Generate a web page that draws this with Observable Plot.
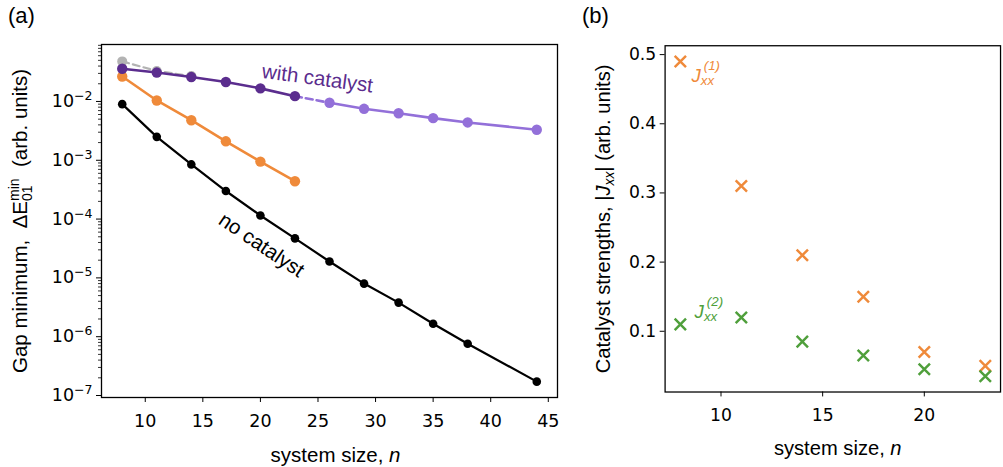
<!DOCTYPE html>
<html>
<head>
<meta charset="utf-8">
<script src="https://cdn.jsdelivr.net/npm/d3@7"></script>
<script src="https://cdn.jsdelivr.net/npm/@observablehq/plot@0.6"></script>
<style>
  body { margin: 0; background: #fff; }
  #fig { position: relative; width: 1003px; height: 467px; overflow: hidden; background: #fff; }
  .panel { position: absolute; top: 0; }
  .tag { position: absolute; font-family: "Liberation Sans", Arial, sans-serif; font-size: 22px; color: #000; line-height: 1; }
</style>
</head>
<body>
<div id="fig">
  <div id="pa" class="panel" style="left:0px"></div>
  <div id="pb" class="panel" style="left:580px"></div>
  <div class="tag" style="left:8px;top:5px">(a)</div>
  <div class="tag" style="left:582px;top:5px">(b)</div>
</div>
<script>
// ---- panel (a): minimum gap vs system size ----
const sizesNoCat = [8, 11, 14, 17, 20, 23, 26, 29, 32, 35, 38, 44];
const gapNoCat = [9.0e-3, 2.5e-3, 8.5e-4, 3.0e-4, 1.15e-4, 4.7e-5, 1.9e-5, 8.0e-6, 3.8e-6, 1.66e-6, 7.6e-7, 1.72e-7];
const sizesSmall = [8, 11, 14, 17, 20, 23];
const gapOrange = [0.0266, 0.0104, 0.0048, 0.0021, 9.5e-4, 4.4e-4];
const gapCatalyst = [0.036, 0.031, 0.026, 0.0214, 0.0167, 0.0123];
const sizesGray = [8, 11, 14];
const gapGray = [0.048, 0.033, 0.027];
const sizesLarge = [26, 29, 32, 35, 38, 44];
const gapCatalystLarge = [0.0095, 0.0075, 0.0063, 0.0052, 0.0044, 0.0033];

const gapTicks = [1e-7, 1e-6, 1e-5, 1e-4, 1e-3, 1e-2];
const gapTickExponents = ["−7", "−6", "−5", "−4", "−3", "−2"];
const sizeTicksA = [10, 15, 20, 25, 30, 35, 40, 45];

const curveLabels = [
  {n: 24.96, v: 0.0245, text: "with catalyst", color: "#5b2d8e", rotate: 7.6},
  {n: 20.1, v: 3.6e-5, text: "no catalyst", color: "#000000", rotate: 34}
];

// ---- panel (b): catalyst strengths ----
const sizesJ = [8, 11, 14, 17, 20, 23];
const j1 = [0.49, 0.31, 0.21, 0.15, 0.07, 0.05];
const j2 = [0.11, 0.12, 0.085, 0.065, 0.045, 0.035];
const strengthTicks = [0.1, 0.2, 0.3, 0.4, 0.5];
const strengthTickLabels = ["0.1", "0.2", "0.3", "0.4", "0.5"];
const sizeTicksB = [10, 15, 20];
const jLabels = [
  {n: 8.55, v: 0.469, sup: "(1)", color: "#ef8a3a"},
  {n: 8.7, v: 0.128, sup: "(2)", color: "#4f9f3b"}
];

const BLACK = "#000000", ORANGE = "#ef8a3a", PURPLE = "#5b2d8e",
      LILAC = "#9370d9", GRAY = "#b3b3b3", GREEN = "#4f9f3b";
const LABEL_FONT = "'Liberation Sans', Arial, sans-serif";
const TICK_STYLE = {fontFamily: "'DejaVu Sans', sans-serif", fontSize: "17.5px", color: "#000", background: "transparent", overflow: "visible"};

const zip = (xs, ys) => xs.map((n, i) => ({n, v: ys[i]}));
const noCat = zip(sizesNoCat, gapNoCat);
const orange = zip(sizesSmall, gapOrange);
const catalyst = zip(sizesSmall, gapCatalyst);
const gray = zip(sizesGray, gapGray);
const catalystLarge = zip(sizesLarge, gapCatalystLarge);
const bridge = [catalyst[catalyst.length - 1], catalystLarge[0]];

// minor ticks for each decade of the log axis
const yDomainA = [9.25e-8, 0.093];
const minorTicks = [];
for (let e = -8; e <= -1; e++)
  for (let k = 2; k <= 9; k++) {
    const t = k * Math.pow(10, e);
    if (t >= yDomainA[0] && t <= yDomainA[1]) minorTicks.push(t);
  }
const gapFmt = new Map(gapTicks.map((t, i) => [t, "10^" + gapTickExponents[i]]));
const strengthFmt = new Map(strengthTicks.map((t, i) => [t, strengthTickLabels[i]]));

const plotA = Plot.plot({
  width: 580, height: 467,
  marginLeft: 101, marginRight: 23, marginTop: 44, marginBottom: 70,
  x: {domain: [6.2, 45.8]},
  y: {type: "log", domain: yDomainA},
  style: TICK_STYLE,
  marks: [
    Plot.axisY(minorTicks, {tickSize: 3, text: null, label: null, strokeWidth: 0.8}),
    Plot.axisY(gapTicks, {tickSize: 5, tickPadding: 4, tickFormat: d => gapFmt.get(d),
      label: "Gap minimum, ΔE01min (arb. units)", labelAnchor: "center", labelArrow: "none", labelOffset: 89}),
    Plot.axisX(sizeTicksA, {tickSize: 5, tickPadding: 12, tickFormat: d => String(d),
      label: "system size, n", labelAnchor: "center", labelArrow: "none", labelOffset: 64}),
    Plot.line(gray, {x: "n", y: "v", stroke: GRAY, strokeWidth: 2.2, strokeDasharray: "7,4"}),
    Plot.dot(gray, {x: "n", y: "v", r: 5, fill: GRAY}),
    Plot.line(noCat, {x: "n", y: "v", stroke: BLACK, strokeWidth: 2.2}),
    Plot.dot(noCat, {x: "n", y: "v", r: 4.3, fill: BLACK}),
    Plot.line(orange, {x: "n", y: "v", stroke: ORANGE, strokeWidth: 2.6}),
    Plot.dot(orange, {x: "n", y: "v", r: 5.2, fill: ORANGE}),
    Plot.line(bridge, {x: "n", y: "v", stroke: LILAC, strokeWidth: 2.6, strokeDasharray: "7,4"}),
    Plot.line(catalystLarge, {x: "n", y: "v", stroke: LILAC, strokeWidth: 2.6}),
    Plot.dot(catalystLarge, {x: "n", y: "v", r: 5.2, fill: LILAC}),
    Plot.line(catalyst, {x: "n", y: "v", stroke: PURPLE, strokeWidth: 2.6}),
    Plot.dot(catalyst, {x: "n", y: "v", r: 5.2, fill: PURPLE}),
    Plot.text(curveLabels, {x: "n", y: "v", text: "text", fill: "color", rotate: "rotate",
      fontFamily: LABEL_FONT, fontSize: 20.5}),
    Plot.frame({stroke: "#000", strokeWidth: 1.3})
  ]
});

const plotB = Plot.plot({
  width: 430, height: 467,
  marginLeft: 86, marginRight: 3, marginTop: 46, marginBottom: 69,
  x: {domain: [7.25, 23.75]},
  y: {domain: [0.0122, 0.5128]},
  style: TICK_STYLE,
  marks: [
    Plot.axisY(strengthTicks, {tickSize: 5, tickPadding: 4, tickFormat: d => strengthFmt.get(d),
      label: "Catalyst strengths, |Jxx| (arb. units)", labelAnchor: "center", labelArrow: "none", labelOffset: 71}),
    Plot.axisX(sizeTicksB, {tickSize: 5, tickPadding: 12, tickFormat: d => String(d),
      label: "system size, n", labelAnchor: "center", labelArrow: "none", labelOffset: 64}),
    Plot.dot(zip(sizesJ, j1), {x: "n", y: "v", symbol: "times", r: 5.3, stroke: ORANGE, strokeWidth: 2.5}),
    Plot.dot(zip(sizesJ, j2), {x: "n", y: "v", symbol: "times", r: 5.3, stroke: GREEN, strokeWidth: 2.5}),
    Plot.text(jLabels, {x: "n", y: "v", text: () => "J", fill: "color", textAnchor: "start",
      fontFamily: LABEL_FONT, fontStyle: "italic", fontSize: 19}),
    Plot.text(jLabels, {x: "n", y: "v", text: () => "xx", fill: "color", textAnchor: "start", dx: 9.5, dy: 5,
      fontFamily: LABEL_FONT, fontStyle: "italic", fontSize: 13.5}),
    Plot.text(jLabels, {x: "n", y: "v", text: "sup", fill: "color", textAnchor: "start", dx: 12.5, dy: -10,
      fontFamily: LABEL_FONT, fontStyle: "italic", fontSize: 13.5}),
    Plot.frame({stroke: "#000", strokeWidth: 1.3})
  ]
});

document.getElementById("pa").appendChild(plotA);
document.getElementById("pb").appendChild(plotB);

// Rebuild axis labels with sub/superscripts and italics.
function richLabel(svg, which, parts, shiftX = 0) {
  const t = d3.select(svg).select(`g[aria-label="${which}-axis label"] text`);
  t.text(null).attr("font-family", LABEL_FONT).attr("font-size", 20.5);
  if (shiftX) t.attr("transform", (t.attr("transform") || "") + ` translate(${shiftX},0)`);
  for (const p of parts) {
    const s = t.append("tspan").text(p.text);
    for (const [k, v] of Object.entries(p.attrs || {})) s.attr(k, v);
  }
}
richLabel(plotA, "y", [
  {text: "Gap minimum,  ΔE"},
  {text: "01", attrs: {"font-size": 14, dy: 5}},
  {text: "min", attrs: {"font-size": 14, dx: -15.5, dy: -13}},
  {text: "  (arb. units)", attrs: {dy: 8}}
]);
richLabel(plotA, "x", [
  {text: "system size, "},
  {text: "n", attrs: {"font-style": "italic"}}
], 6);
richLabel(plotB, "y", [
  {text: "Catalyst strengths, |"},
  {text: "J", attrs: {"font-style": "italic"}},
  {text: "xx", attrs: {"font-style": "italic", "font-size": 14, dy: 5}},
  {text: "| (arb. units)", attrs: {dy: -5}}
]);
richLabel(plotB, "x", [
  {text: "system size, "},
  {text: "n", attrs: {"font-style": "italic"}}
], 5);

// Power-of-ten tick labels: base with a raised exponent.
d3.select(plotA).selectAll('g[aria-label="y-axis tick label"] text').each(function () {
  const [base, exp] = this.textContent.split("^");
  if (exp === undefined) return;
  const t = d3.select(this);
  t.text(null);
  t.append("tspan").text(base);
  t.append("tspan").attr("font-size", 12.5).attr("dy", -7).text(exp);
});
</script>
</body>
</html>
